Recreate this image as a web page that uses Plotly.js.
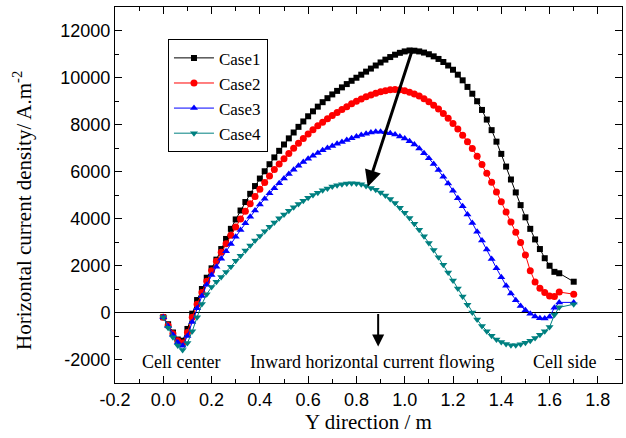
<!DOCTYPE html>
<html><head><meta charset="utf-8">
<script src="https://cdn.plot.ly/plotly-3.0.1.min.js"></script>
<style>html,body{margin:0;padding:0;background:#fff}#chart{width:626px;height:438px}</style>
</head><body><div id="chart"></div>
<script>
const yDirection = [0,0.02,0.04,0.06,0.08,0.10,0.12,0.14,0.16,0.18,0.20,0.22,0.24,0.26,0.28,0.30,0.32,0.34,0.36,0.38,0.40,0.42,0.44,0.46,0.48,0.50,0.52,0.54,0.56,0.58,0.60,0.62,0.64,0.66,0.68,0.70,0.72,0.74,0.76,0.78,0.80,0.82,0.84,0.86,0.88,0.90,0.92,0.94,0.96,0.98,1.00,1.02,1.04,1.06,1.08,1.10,1.12,1.14,1.16,1.18,1.20,1.22,1.24,1.26,1.28,1.30,1.32,1.34,1.36,1.38,1.40,1.42,1.44,1.46,1.48,1.50,1.52,1.54,1.56,1.58,1.60,1.62,1.64,1.70];

const case1 = [-200,-500,-850,-1150,-1200,-700,-50,530,1000,1480,1880,2250,2700,3130,3560,3960,4340,4700,5050,5380,5700,6010,6310,6600,6880,7150,7410,7660,7900,8130,8350,8560,8760,8950,9120,9280,9430,9580,9720,9860,9990,10120,10250,10380,10510,10640,10760,10870,10970,11050,11110,11150,11140,11110,11060,10990,10900,10790,10660,10510,10330,10120,9880,9600,9310,8990,8620,8210,7760,7270,6750,6210,5660,5110,4570,4050,3560,3110,2700,2310,1990,1730,1670,1310];

const case2 = [-200,-550,-900,-1200,-1300,-850,-200,350,850,1330,1780,2180,2560,2930,3290,3640,3980,4310,4630,4940,5240,5530,5810,6080,6320,6540,6770,6990,7200,7400,7600,7780,7950,8100,8240,8380,8510,8640,8760,8880,8990,9090,9180,9260,9330,9390,9440,9480,9490,9480,9432,9377,9303,9210,9100,8970,8822,8656,8471,8268,8046,7806,7547,7270,6974,6650,6300,5930,5540,5130,4710,4280,3850,3410,2980,2450,1780,1300,1030,850,700,680,870,780];

const case3 = [-200,-580,-950,-1280,-1420,-1000,-400,180,700,1180,1600,1950,2290,2610,2920,3220,3510,3800,4070,4340,4600,4840,5070,5290,5500,5700,5890,6070,6240,6400,6540,6670,6790,6900,7000,7090,7180,7260,7340,7420,7490,7550,7610,7660,7690,7690,7670,7630,7570,7490,7400,7290,7150,6980,6780,6560,6320,6060,5780,5490,5180,4860,4520,4170,3810,3440,3060,2680,2280,1880,1500,1140,810,520,280,100,-50,-170,-240,-250,-180,200,430,430];

const case4 = [-200,-650,-1050,-1400,-1600,-1300,-800,-200,360,780,1080,1310,1510,1720,1950,2200,2420,2640,2850,3060,3260,3460,3650,3830,4010,4170,4330,4480,4620,4760,4880,5000,5100,5200,5280,5360,5420,5460,5490,5500,5490,5460,5380,5300,5220,5110,4980,4830,4660,4460,4250,4020,3780,3520,3250,2960,2660,2350,2030,1700,1360,1020,680,330,0,-300,-570,-800,-990,-1150,-1260,-1340,-1390,-1390,-1350,-1290,-1200,-1080,-950,-800,-620,-100,220,350];

const seriesNames = ['Case1','Case2','Case3','Case4'];
const xTickVals = [-0.2,0,0.2,0.4,0.6,0.8,1.0,1.2,1.4,1.6,1.8];
const xTickText = ['-0.2','0.0','0.2','0.4','0.6','0.8','1.0','1.2','1.4','1.6','1.8'];
const yTickVals = [-2000,0,2000,4000,6000,8000,10000,12000];
const yTickText = ['-2000','0','2000','4000','6000','8000','10000','12000'];
const noteTexts = ['Cell center','Inward horizontal current flowing','Cell side'];

const serif = 'Liberation Serif';
const sans = 'Liberation Sans';

const styles = [
  {color:'#000000', symbol:'square', size:6},
  {color:'#ff0000', symbol:'circle', size:7},
  {color:'#0000ff', symbol:'triangle-up', size:7},
  {color:'#008080', symbol:'triangle-down', size:7}
];
const ys = [case1, case2, case3, case4];
const traces = ys.map((y,i)=>({
  x: yDirection, y: y, name: seriesNames[i], type:'scatter', mode:'lines+markers',
  line:{color:styles[i].color, width:1},
  marker:{color:styles[i].color, symbol:styles[i].symbol, size:styles[i].size, line:{width:0}}
}));

const axisCommon = {
  showline:true, linecolor:'#000', linewidth:1, mirror:'ticks',
  ticks:'inside', ticklen:7, tickwidth:1, tickcolor:'#000',
  showgrid:false, tickfont:{family:sans, size:18, color:'#000'}
};

const layout = {
  width:626, height:438,
  margin:{l:115, r:4, t:7, b:55},
  paper_bgcolor:'#fff', plot_bgcolor:'#fff',
  showlegend:true,
  legend:{x:0.1045, y:0.914, xanchor:'left', yanchor:'top', bgcolor:'#fff',
    bordercolor:'#000', borderwidth:1, font:{family:serif, size:17, color:'#000'},
    itemwidth:40, tracegroupgap:0},
  xaxis:Object.assign({}, axisCommon, {
    range:[-0.2,1.9], tickmode:'array', tickvals:xTickVals, ticktext:xTickText,
    zeroline:false,
    minor:{ticks:'inside', ticklen:4, tickcolor:'#000', dtick:0.1, tick0:0, showgrid:false},
    title:{text:'Y direction / m', font:{family:serif, size:21, color:'#000'}, standoff:4}
  }),
  yaxis:Object.assign({}, axisCommon, {
    range:[-3000,13000], tickmode:'array', tickvals:yTickVals, ticktext:yTickText,
    zeroline:true, zerolinecolor:'#000', zerolinewidth:1,
    minor:{ticks:'inside', ticklen:4, tickcolor:'#000', dtick:1000, tick0:0, showgrid:false}
  }),
  annotations:[
    {xref:'paper', yref:'paper', x:-0.1835, y:0.46, xanchor:'center', yanchor:'middle',
     textangle:-90, showarrow:false, text:'Horizontal current density/ A.m<sup>-2</sup>',
     font:{family:serif, size:21, color:'#000'}},
    {xref:'x', yref:'y', x:0.0735, y:-2094, showarrow:false, text:noteTexts[0],
     font:{family:serif, size:18, color:'#000'}},
    {xref:'x', yref:'y', x:0.865, y:-2094, showarrow:false, text:noteTexts[1],
     font:{family:serif, size:18, color:'#000'}},
    {xref:'x', yref:'y', x:1.665, y:-2094, showarrow:false, text:noteTexts[2],
     font:{family:serif, size:18, color:'#000'}},
    {xref:'x', yref:'y', x:0.847, y:5353, axref:'x', ayref:'y', ax:1.03, ay:11130,
     showarrow:true, arrowhead:2, arrowsize:1.1, arrowwidth:3, arrowcolor:'#000', text:''},
    {xref:'x', yref:'y', x:0.89, y:-1450, axref:'x', ayref:'y', ax:0.89, ay:0,
     showarrow:true, arrowhead:2, arrowsize:1.2, arrowwidth:2, arrowcolor:'#000', text:''}
  ]
};

Plotly.newPlot('chart', traces, layout, {staticPlot:true});
</script></body></html>
